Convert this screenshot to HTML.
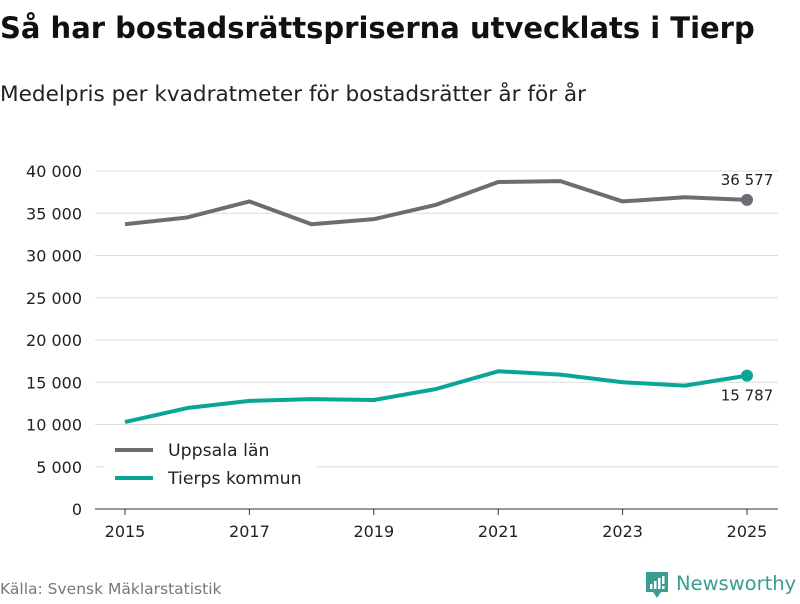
<!DOCTYPE html>
<html><head><meta charset="utf-8"><style>
body{margin:0;background:#fff;font-family:"DejaVu Sans","Liberation Sans",sans-serif;}
</style></head><body>
<svg id="c" width="800" height="600" xmlns="http://www.w3.org/2000/svg">
<text x="0" y="38" font-size="29" font-weight="bold" fill="#111">Så har bostadsrättspriserna utvecklats i Tierp</text>
<text x="0" y="101" font-size="21.6" fill="#222">Medelpris per kvadratmeter för bostadsrätter år för år</text>
<g id="grid"></g>
<g id="xax"></g>
<g id="series"></g>
<g>
<rect x="105" y="433" width="212" height="62" fill="#fff"/>
<line x1="115" y1="450" x2="153" y2="450" stroke="#6d6c72" stroke-width="4"/>
<text x="168" y="456" font-size="17.3" fill="#222">Uppsala län</text>
<line x1="115" y1="478" x2="153" y2="478" stroke="#0aa597" stroke-width="4"/>
<text x="168" y="484" font-size="17.3" fill="#222">Tierps kommun</text>
</g>
<text x="0" y="594" font-size="15.5" fill="#777">Källa: Svensk Mäklarstatistik</text>
<g>
<path d="M646 572h22v20h-7l-4 6-4-6h-7z" fill="#3a9d93"/>
<rect x="650" y="584" width="2.5" height="5" fill="#fff"/><rect x="654" y="581" width="2.5" height="8" fill="#fff"/><rect x="658" y="578" width="2.5" height="11" fill="#fff"/><rect x="662" y="576" width="2.5" height="8" fill="#fff"/><rect x="662" y="586" width="2.5" height="3" fill="#fff"/>
<text x="676" y="590" font-size="19.5" fill="#3a9d93">Newsworthy</text>
</g>
</svg>
<script>
const years=[2015,2016,2017,2018,2019,2020,2021,2022,2023,2024,2025];
const uppsala=[33700,34500,36400,33700,34300,36000,38700,38800,36400,36900,36577];
const tierp=[10300,11950,12800,13000,12900,14200,16300,15900,15000,14600,15787];
const yTicks=[0,5000,10000,15000,20000,25000,30000,35000,40000];
const xTicks=[2015,2017,2019,2021,2023,2025];
const NS="http://www.w3.org/2000/svg";
const X=v=>125+(v-2015)*62.2, Y=v=>509-v*338/40000;
const fmt=v=>v.toLocaleString('en-US').replace(/,/g,' ');
function mk(t,a,p){const e=document.createElementNS(NS,t);for(const k in a)e.setAttribute(k,a[k]);p.appendChild(e);return e;}
const g=document.getElementById('grid');
yTicks.forEach(v=>{
 const l=mk('line',{x1:95,x2:778,y1:Y(v),y2:Y(v),stroke:v?'#ddd':'#333','stroke-width':1},g);
 
 
 const t=mk('text',{x:82,y:Y(v)+6,'font-size':16,fill:'#222','text-anchor':'end'},g);t.textContent=fmt(v);
 
 
});
const xa=document.getElementById('xax');
xTicks.forEach(v=>{
 mk('line',{x1:X(v),x2:X(v),y1:509,y2:515,stroke:'#333'},xa);
 const t=mk('text',{x:X(v),y:537,'font-size':16,fill:'#222','text-anchor':'middle'},xa);t.textContent=v;
 
 
});
const s=document.getElementById('series');
function line(vals,col,name,lx,ly){
 const p=mk('polyline',{points:vals.map((v,i)=>X(years[i])+','+Y(v)).join(' '),fill:'none',stroke:col,'stroke-width':4,'stroke-linejoin':'round'},s);
 
 
 const n=vals.length-1;
 const c=mk('circle',{cx:X(years[n]),cy:Y(vals[n]),r:6,fill:col},s);
 
 
 const t=mk('text',{x:X(years[n]),y:Y(vals[n])+ly,'font-size':15,fill:'#222','text-anchor':'middle'},s);t.textContent=fmt(vals[n]);
 
 
}
line(uppsala,'#6d6c72','uppsala',0,-15);
line(tierp,'#0aa597','tierp',0,25);
</script>
</body></html>
